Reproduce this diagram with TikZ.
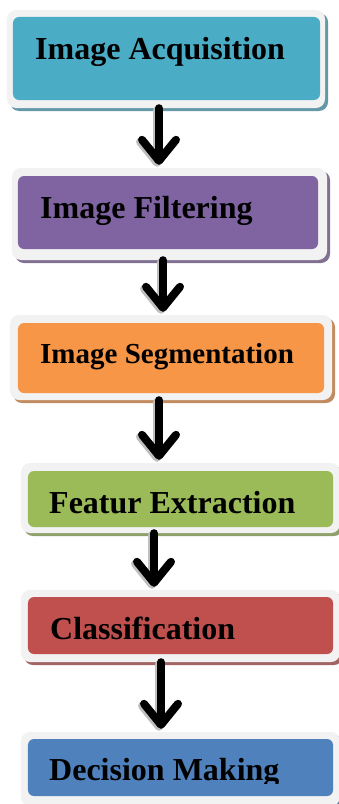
\documentclass[tikz,border=0pt]{standalone}
\usepackage{fontspec}
\setmainfont{Liberation Serif}
\usetikzlibrary{arrows.meta,shadows}
\definecolor{cA}{HTML}{4BACC6}
\definecolor{cB}{HTML}{8064A2}
\definecolor{cC}{HTML}{F79646}
\definecolor{cD}{HTML}{9BBB59}
\definecolor{cE}{HTML}{C0504D}
\definecolor{cF}{HTML}{4F81BD}
\definecolor{frame}{HTML}{F2F2F2}
\tikzset{
  outerbox/.style={fill=frame, draw=none, rounded corners=9bp, inner sep=0pt},
  innerbox/.style={draw=none, rounded corners=6bp, inner sep=0pt},
  label/.style={inner sep=0pt, anchor=base west, font=\bfseries\fontsize{32bp}{36bp}\selectfont},
  flowarrow/.style={line width=8bp, line cap=round, line join=round,
    -{Straight Barb[length=21bp, width=34bp, line cap=round, line join=round]}},
  arrowshadow/.style={flowarrow, draw=gray!50}
}
\newcommand{\flowbox}[8]{% name, outer center, outer w, outer h, inner center, inner w, inner h, color
  \node[outerbox, minimum width=#3, minimum height=#4,
        drop shadow={shadow xshift=3bp, shadow yshift=-3bp, fill=#8!55!gray, opacity=1}] (#1) at #2 {};
  \node[innerbox, fill=#8, minimum width=#6, minimum height=#7] (#1i) at #5 {};
}
\begin{document}
\begin{tikzpicture}[x=1bp,y=-1bp]
\useasboundingbox (0,0) rectangle (338,804);
\flowbox{a}{(166,59)}{318bp}{98bp}{(166.5,58.5)}{307bp}{83bp}{cA}
\flowbox{b}{(169.5,214)}{315bp}{92bp}{(168,212.5)}{300bp}{73bp}{cB}
\flowbox{c}{(171,357.5)}{322bp}{85bp}{(171,358)}{306bp}{70bp}{cC}
\flowbox{d}{(180.5,498)}{319bp}{70bp}{(180.5,499)}{305bp}{56bp}{cD}
\flowbox{e}{(180.5,626)}{319bp}{72bp}{(180.5,625.5)}{305bp}{57bp}{cE}
\flowbox{f}{(180.5,769)}{319bp}{74bp}{(180.5,767.5)}{305bp}{57bp}{cF}
\node[label] (ta) at (35,60) {Image Acquisition};
\node[label] (tb) at (40,218) {Image Filtering};
\node[label, font=\bfseries\fontsize{29bp}{33bp}\selectfont] (tc) at (40,363) {Image Segmentation};
\node[label] (td) at (49,513) {Featur Extraction};
\node[label] (te) at (50,639) {Classification};
\begin{scope}
\clip (28,739) rectangle (333,783);
\node[label] (tf) at (49,780) {Decision Making};
\end{scope}
\coordinate (xa) at (159,0);
\coordinate (xb) at (163,0);
\coordinate (xc) at (159,0);
\coordinate (xd) at (154,0);
\coordinate (xe) at (161,0);
\foreach \p/\q/\x in {a/b/xa, b/c/xb, c/d/xc, d/e/xd, e/f/xe}{
  \draw[arrowshadow, transform canvas={xshift=-2bp, yshift=-2bp}] (\x |- \p.south) -- ([yshift=3bp]\x |- \q.north);
  \draw[flowarrow] (\x |- \p.south) -- ([yshift=3bp]\x |- \q.north);
}
\end{tikzpicture}
\end{document}
